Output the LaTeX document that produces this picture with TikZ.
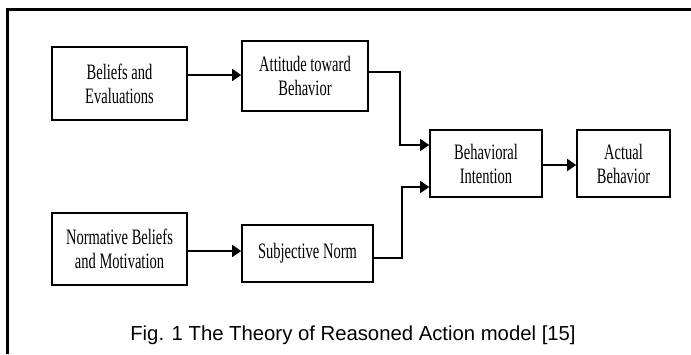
\documentclass[tikz,border=0pt]{standalone}
\usepackage{fontspec}
\setmainfont{Liberation Serif}
\newfontfamily\boxfont[FakeStretch=0.66]{Liberation Serif}
\newfontfamily\capfont{Liberation Sans}
\usetikzlibrary{arrows.meta}
\begin{document}
\begin{tikzpicture}[x=1pt,y=-1pt,
  stage/.style={draw=black,line width=1.6pt,rectangle,inner sep=0pt,
    align=center,font=\boxfont\fontsize{22}{24}\selectfont},
  link/.style={line width=1.5pt,-{Triangle[length=9pt,width=12pt]}}]
\useasboundingbox (0,0) rectangle (691,354);
% outer frame (left and top edges)
\draw[line width=3pt] (7,354) -- (7,9) -- (691,9);
% boxes
\node[stage,minimum width=135pt,minimum height=73pt] (be) at (119.5,83.5) {Beliefs and\\Evaluations};
\node[stage,minimum width=126pt,minimum height=70pt] (att) at (305,76) {Attitude toward\\Behavior};
\node[stage,minimum width=135pt,minimum height=72pt] (nb) at (119.5,249) {Normative Beliefs\\and Motivation};
\node[stage,minimum width=131pt,minimum height=57pt] (sn) at (307.5,253.5) {Subjective Norm};
\node[stage,minimum width=112pt,minimum height=67pt] (bi) at (486,163.5) {Behavioral\\Intention};
\node[stage,minimum width=93pt,minimum height=67pt] (ab) at (623.5,163.5) {Actual\\Behavior};
% connectors
\draw[link] (be.east |- 0,75) -- (att.west |- 0,75);
\draw[link] (nb.east |- 0,251) -- (sn.west |- 0,251);
\draw[link] (att.east |- 0,72) -| (400,145) -- (bi.west |- 0,145);
\draw[link] (sn.east |- 0,258) -| (402,187) -- (bi.west |- 0,187);
\draw[link] (bi.east |- 0,165) -- (ab.west |- 0,165);
% caption
\node[font=\capfont\fontsize{20.3}{24}\selectfont] (cap) at (353,335) {Fig. 1 The Theory of Reasoned Action model [15]};
\end{tikzpicture}
\end{document}
